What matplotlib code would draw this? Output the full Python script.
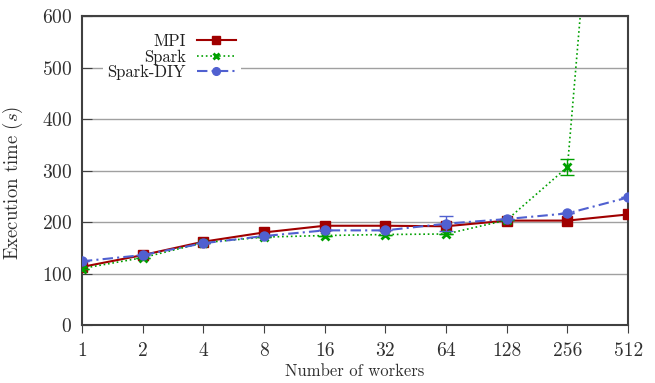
import numpy as np
import matplotlib
matplotlib.use('Agg')
from matplotlib import pyplot as plt

plt.rcParams['font.family'] = ['cmr10', 'DejaVu Serif']
plt.rcParams['mathtext.fontset'] = 'cm'
plt.rcParams['axes.formatter.use_mathtext'] = True

workers = [1, 2, 4, 8, 16, 32, 64, 128, 256, 512]
mpi = [113, 136, 162, 180, 193, 193, 192, 203, 203, 215]
spark = [110, 131, 160, 171, 174, 176, 177, 204, 307, 1700]
spark_diy = [124, 136, 159, 173, 184, 184, 197, 206, 217, 248]
spark_err = [0, 0, 0, 0, 0, 0, 0, 0, 15, 0]
diy_err = [0, 0, 0, 0, 0, 0, 14, 0, 0, 0]

fig = plt.figure(figsize=(6.55, 3.83), dpi=100)
ax = fig.add_axes([0.125, 0.151, 0.834, 0.807])

x = np.log2(workers)

c_mpi, c_spark, c_diy = '#a00000', '#00a000', '#5060d0'
dashdot = (0, (5, 2, 1, 2))

h1, = ax.plot(x, mpi, color=c_mpi, lw=1.5, marker='s', ms=6.5, label='MPI', zorder=3)
ax.errorbar(x, spark, yerr=spark_err, fmt='none', ecolor=c_spark, capsize=5,
            elinewidth=1, zorder=3)
h2, = ax.plot(x, spark, color=c_spark, lw=1.2, ls=':', marker='x', ms=5.5, mew=2,
              label='Spark', zorder=3)
ax.errorbar(x, spark_diy, yerr=diy_err, fmt='none', ecolor=c_diy, capsize=5,
            elinewidth=1, zorder=3)
h3, = ax.plot(x, spark_diy, color=c_diy, lw=1.5, ls=dashdot, marker='o', ms=6.5,
              label='Spark-DIY', zorder=3)

ax.set_xlim(0, 9)
ax.set_ylim(0, 600)
ax.set_xticks(x)
ax.set_xticklabels([str(w) for w in workers])
ax.set_yticks(range(0, 601, 100))
ax.yaxis.grid(True, color='#a0a0a0', lw=1)
ax.set_axisbelow(True)
ax.tick_params(labelsize=14, labelcolor='#303030', color='#404040')
ax.tick_params(axis='y', direction='in', length=7, pad=7)
ax.tick_params(axis='x', direction='out', length=6, pad=6)
for s in ax.spines.values():
    s.set_color('#404040')
    s.set_linewidth(1.5)

ax.set_xlabel('Number of workers', fontsize=12, labelpad=3, color='#303030')
ax.set_ylabel('Execution time ($s$)', fontsize=13.5, color='#303030')
ax.yaxis.set_label_coords(-0.104, 0.46)

leg = fig.legend(handles=[h1, h2, h3], loc='upper right',
                 bbox_to_anchor=(241 / 655, 354 / 383), markerfirst=False,
                 frameon=True, fancybox=False, edgecolor='none', framealpha=1,
                 fontsize=12, handlelength=2.35, labelspacing=0.0, markerscale=0.85,
                 borderpad=0.3, handletextpad=0.65, borderaxespad=0)
for t in leg.get_texts():
    t.set_ha('right')
    t.set_color('#202020')
leg._legend_box.align = 'right'

fig.savefig('out.png', dpi=100)
